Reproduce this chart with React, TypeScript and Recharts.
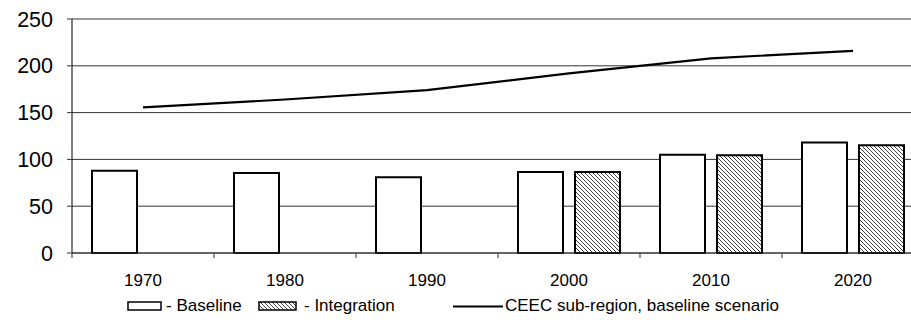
import React from "react";
import {
  ComposedChart,
  Bar,
  Line,
  XAxis,
  YAxis,
  CartesianGrid,
  ReferenceLine,
} from "recharts";

// values
const years = ["1970", "1980", "1990", "2000", "2010", "2020"];
const baselineValues = [88, 85.5, 81, 86.5, 105, 118];
const integrationValues = [null, null, null, 86.5, 104.5, 115];
const ceecValues = [155.5, 164, 174, 192, 208, 216];
const yTicks = [0, 50, 100, 150, 200, 250];

const data = years.map((year, i) => ({
  year,
  baseline: baselineValues[i],
  integration: integrationValues[i],
  ceec: ceecValues[i],
}));

const FONT = "'Liberation Sans', Arial, sans-serif";

// tick marks sit on the category borders, labels in the middle
function XTick(props: any) {
  const { x, y, payload } = props;
  const half = 71;
  return (
    <g>
      <line x1={x - half} x2={x - half} y1={y} y2={y + 5} stroke="#333" />
      <text
        x={x}
        y={y + 33}
        textAnchor="middle"
        fontSize={17}
        fontFamily={FONT}
        fill="#000"
      >
        {payload.value}
      </text>
    </g>
  );
}

function HatchDef({ id }: { id: string }) {
  return (
    <pattern id={id} patternUnits="userSpaceOnUse" width={4} height={4}>
      <rect width={4} height={4} fill="#fff" />
      <path
        d="M-1,-1 L5,5 M3,-1 L5,1 M-1,3 L1,5"
        stroke="#444"
        strokeWidth={1}
      />
    </pattern>
  );
}

function ChartLegend() {
  const textStyle = { fontSize: 17, fontFamily: FONT, fill: "#000" };
  return (
    <svg
      width={911}
      height={30}
      style={{ position: "absolute", left: 0, top: 290 }}
    >
      <defs>
        <HatchDef id="hatchLegend" />
      </defs>
      <rect x={128} y={12} width={33} height={8} fill="#fff" stroke="#000" strokeWidth={1.5} />
      <text x={166} y={21} {...textStyle}>- Baseline</text>
      <rect x={259} y={12} width={37} height={8} fill="url(#hatchLegend)" stroke="#000" strokeWidth={1.5} />
      <text x={304} y={21} {...textStyle}>- Integration</text>
      <line x1={453} x2={503} y1={16.5} y2={16.5} stroke="#000" strokeWidth={2} />
      <text x={505} y={21} {...textStyle}>CEEC sub-region, baseline scenario</text>
    </svg>
  );
}

export default function App() {
  return (
    <div
      style={{
        position: "absolute",
        left: 0,
        top: 0,
        width: 911,
        height: 320,
        overflow: "hidden",
        background: "#fff",
        fontFamily: FONT,
      }}
    >
      <ComposedChart
        width={930}
        height={320}
        data={data}
        margin={{ top: 19, right: 6, left: 0, bottom: 37 }}
        barCategoryGap={20}
        barGap={12}
      >
        <defs>
          <HatchDef id="hatch" />
        </defs>
        <CartesianGrid vertical={false} stroke="#333" />
        <ReferenceLine y={250} stroke="#999" />
        <XAxis
          dataKey="year"
          height={30}
          interval={0}
          tickSize={0}
          tickMargin={0}
          tickLine={false}
          axisLine={{ stroke: "#333" }}
          tick={(p: any) => <XTick {...p} />}
        />
        <YAxis
          domain={[0, 250]}
          ticks={yTicks}
          interval={0}
          width={72}
          tickSize={5}
          tickMargin={14}
          axisLine={{ stroke: "#000" }}
          tickLine={{ stroke: "#333" }}
          tick={{ fontSize: 21.5, fill: "#000", fontFamily: FONT }}
        />
        <Bar
          dataKey="baseline"
          fill="#fff"
          stroke="#000"
          strokeWidth={2}
          isAnimationActive={false}
        />
        <Bar
          dataKey="integration"
          fill="url(#hatch)"
          stroke="#000"
          strokeWidth={2}
          isAnimationActive={false}
        />
        <Line
          type="linear"
          dataKey="ceec"
          stroke="#000"
          strokeWidth={2.2}
          dot={false}
          isAnimationActive={false}
        />
      </ComposedChart>
      <ChartLegend />
    </div>
  );
}
